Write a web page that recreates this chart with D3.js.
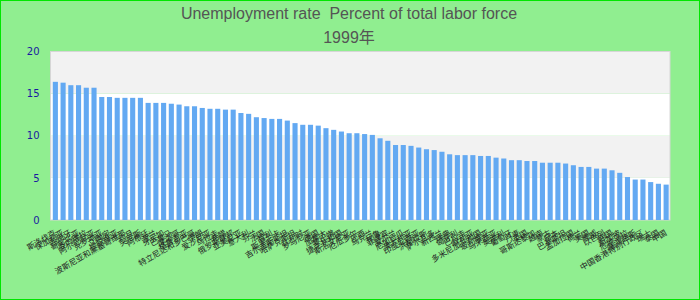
<!DOCTYPE html>
<html>
<head>
<meta charset="utf-8">
<script src="https://cdn.jsdelivr.net/npm/d3@7"></script>
<style>
  html, body { margin: 0; padding: 0; background: #90ee90; }
  svg { display: block; }
</style>
</head>
<body>
<svg id="chart" width="700" height="300"></svg>
<script>
const titleLine1 = "Unemployment rate  Percent of total labor force";
const titleLine2 = "1999年";

const countries = [
  "斯洛伐克","保加利亚","西班牙","哥伦比亚","委内瑞拉","阿尔巴尼亚","克罗地亚","立陶宛",
  "拉脱维亚","波斯尼亚和黑塞哥维那","约旦","突尼斯","阿根廷","波兰","牙买加","巴拿马",
  "摩洛哥","格鲁吉亚","特立尼达和多巴哥","伊朗","爱沙尼亚","乌拉圭","希腊","俄罗斯联邦",
  "亚美尼亚","意大利","芬兰","法国","智利","斯里兰卡","吉尔吉斯斯坦","哈萨克斯坦",
  "比利时","罗马尼亚","德国","加拿大","黎巴嫩","捷克共和国","斯洛文尼亚","厄瓜多尔",
  "巴西","乌克兰","秘鲁","菲律宾","爱尔兰","尼加拉瓜","澳大利亚","印度尼西亚",
  "洪都拉斯","萨尔瓦多","新西兰","瑞典","匈牙利","巴拉圭","叙利亚","多米尼加共和国",
  "玻利维亚","马来西亚","奥地利","葡萄牙","丹麦","英国","哥斯达黎加","越南",
  "蒙古","日本","巴基斯坦","孟加拉国","荷兰","美国","挪威","以色列",
  "韩国","新加坡","危地马拉","塞浦路斯","中国香港特别行政区","瑞士","泰国","中国"
];

const rates = [
  16.4,16.3,16.0,16.0,15.7,15.7,14.6,14.6,
  14.5,14.5,14.5,14.5,13.9,13.9,13.9,13.8,
  13.7,13.5,13.5,13.3,13.2,13.2,13.1,13.1,
  12.7,12.6,12.2,12.1,12.0,12.0,11.8,11.5,
  11.3,11.3,11.2,10.9,10.7,10.5,10.3,10.3,
  10.2,10.1,9.7,9.4,8.9,8.9,8.8,8.6,
  8.4,8.3,8.1,7.8,7.7,7.7,7.7,7.6,
  7.6,7.4,7.3,7.1,7.1,7.0,7.0,6.8,
  6.8,6.8,6.7,6.5,6.3,6.3,6.1,6.1,
  5.9,5.6,5.1,4.8,4.8,4.5,4.3,4.2
];

const yTicks = [0, 5, 10, 15, 20];

const svg = d3.select("#chart");
const W = 700, H = 300;
const plot = { left: 50.5, right: 670, top: 51.5, bottom: 220 };

// outer border
svg.append("rect")
  .attr("x", 0.5).attr("y", 0.5)
  .attr("width", W - 1).attr("height", H - 1)
  .attr("fill", "#90ee90")
  .attr("stroke", "#00e600").attr("stroke-width", 1);

const x = d3.scaleBand()
  .domain(countries)
  .range([plot.left + 1, plot.right])
  .paddingInner(0.34)
  .paddingOuter(0.17);

const y = d3.scaleLinear()
  .domain([0, 20])
  .range([plot.bottom, plot.top]);

// bands
const bands = d3.pairs(yTicks);
svg.append("g").selectAll("rect")
  .data(bands)
  .join("rect")
  .attr("x", plot.left)
  .attr("width", plot.right - plot.left)
  .attr("y", d => y(d[1]))
  .attr("height", d => y(d[0]) - y(d[1]))
  .attr("fill", (d, i) => i % 2 === 1 ? "#f2f2f2" : "#ffffff");

// frame
svg.append("rect")
  .attr("x", plot.left).attr("y", plot.top)
  .attr("width", plot.right - plot.left)
  .attr("height", plot.bottom - plot.top)
  .attr("fill", "none")
  .attr("stroke", "#d6d6d6").attr("stroke-width", 1);

// bars
svg.append("g").selectAll("rect")
  .data(rates)
  .join("rect")
  .attr("x", (d, i) => x(countries[i]))
  .attr("width", x.bandwidth())
  .attr("y", d => y(d))
  .attr("height", d => plot.bottom - y(d))
  .attr("fill", "#63a9f2");

// y axis
const yAxis = d3.axisLeft(y).tickValues(yTicks).tickSize(0).tickPadding(0);
const gy = svg.append("g")
  .attr("transform", `translate(${39.5},0)`)
  .call(yAxis);
gy.select(".domain").remove();
gy.selectAll("text")
  .attr("fill", "#1a1aa0")
  .style("font-family", "'DejaVu Sans', Verdana, sans-serif")
  .style("font-size", "10px");

// x axis labels
const xAxis = d3.axisBottom(x).tickSize(0).tickPadding(0);
const gx = svg.append("g")
  .attr("transform", `translate(0,${plot.bottom + 12})`)
  .call(xAxis);
gx.select(".domain").remove();
gx.selectAll("text")
  .attr("fill", "#222")
  .style("font-family", "'Noto Sans CJK SC', sans-serif")
  .style("font-size", "8px")
  .attr("text-anchor", "end")
  .attr("dy", "0.35em")
  .attr("transform", "rotate(-30)");

// title
svg.append("text")
  .attr("x", 349).attr("y", 18.5)
  .attr("text-anchor", "middle")
  .attr("fill", "#555")
  .style("font-family", "'Liberation Sans', Arial, sans-serif")
  .style("font-size", "16px")
  .style("white-space", "pre")
  .text(titleLine1);
svg.append("text")
  .attr("x", 349).attr("y", 42.5)
  .attr("text-anchor", "middle")
  .attr("fill", "#555")
  .style("font-family", "'Liberation Sans', Arial, 'Noto Sans CJK SC', sans-serif")
  .style("font-size", "16px")
  .text(titleLine2);
</script>
</body>
</html>
